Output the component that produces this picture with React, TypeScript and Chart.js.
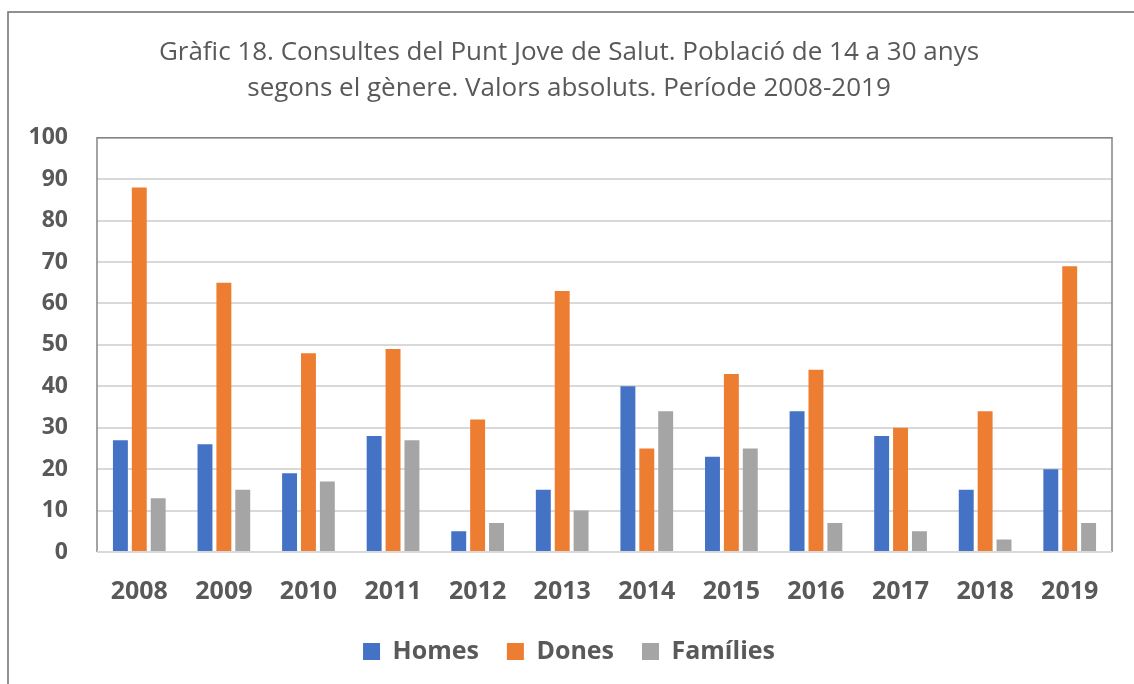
import React, { useEffect, useRef } from "react";
import { Chart, registerables } from "chart.js";

Chart.register(...registerables);

const categories = ["2008", "2009", "2010", "2011", "2012", "2013", "2014", "2015", "2016", "2017", "2018", "2019"];
const homes = [27, 26, 19, 28, 5, 15, 40, 23, 34, 28, 15, 20];
const dones = [88, 65, 48, 49, 32, 63, 25, 43, 44, 30, 34, 69];
const families = [13, 15, 17, 27, 7, 10, 34, 25, 7, 5, 3, 7];
const titleLines = [
  "Gràfic 18. Consultes del Punt Jove de Salut. Població de 14 a 30 anys",
  "segons el gènere. Valors absoluts. Període 2008-2019",
];

const FONT = "'Open Sans', sans-serif";
const TEXT = "#595959";

const framePlugin = {
  id: "frame",
  beforeDraw(chart: any) {
    const ctx = chart.ctx;
    ctx.save();
    ctx.fillStyle = "#ffffff";
    ctx.fillRect(0, 0, chart.width, chart.height);
    ctx.strokeStyle = "#6e6e6e";
    ctx.lineWidth = 1.5;
    ctx.beginPath();
    ctx.moveTo(8, chart.height + 5);
    ctx.lineTo(8, 12);
    ctx.lineTo(chart.width + 5, 12);
    ctx.stroke();
    ctx.restore();
  },
  afterDatasetsDraw(chart: any) {
    const { ctx, chartArea: a } = chart;
    ctx.save();
    ctx.strokeStyle = "#858585";
    ctx.lineWidth = 1.5;
    ctx.beginPath();
    ctx.moveTo(a.left, a.bottom);
    ctx.lineTo(a.left, a.top);
    ctx.lineTo(a.right, a.top);
    ctx.lineTo(a.right, a.bottom);
    ctx.stroke();
    ctx.strokeStyle = "#d9d9d9";
    ctx.lineWidth = 2;
    ctx.beginPath();
    ctx.moveTo(a.left, a.bottom);
    ctx.lineTo(a.right, a.bottom);
    ctx.stroke();
    ctx.restore();
  },
};

export default function App() {
  const ref = useRef<HTMLCanvasElement | null>(null);
  useEffect(() => {
    if (!ref.current) return;
    const chart = new Chart(ref.current, {
      type: "bar",
      data: {
        labels: categories,
        datasets: [
          { label: "Homes", data: homes, backgroundColor: "#4472C4" },
          { label: "Dones", data: dones, backgroundColor: "#ED7D31" },
          { label: "Famílies", data: families, backgroundColor: "#A5A5A5" },
        ],
      },
      options: {
        responsive: false,
        animation: false,
        layout: { padding: { top: 20, left: 26, right: 22, bottom: 10 } },
        datasets: { bar: { categoryPercentage: 0.67, barPercentage: 0.79 } },
        plugins: {
          title: {
            display: true,
            text: titleLines,
            color: TEXT,
            font: { family: FONT, size: 26, weight: "normal", lineHeight: 1.4 },
            padding: { top: 14, bottom: 31 },
          },
          legend: {
            position: "bottom",
            labels: {
              color: TEXT,
              font: { family: FONT, size: 25, weight: "bold" },
              boxWidth: 17,
              boxHeight: 17,
              padding: 28,
            },
          },
          tooltip: { enabled: false },
        },
        scales: {
          x: {
            grid: { display: false, drawTicks: false },
            border: { display: false },
            ticks: { color: TEXT, font: { family: FONT, size: 25, weight: "bold" }, padding: 25, maxRotation: 0 },
            afterFit: (s: any) => {
              s.height = 59;
            },
          },
          y: {
            min: 0,
            max: 100,
            grid: { color: "#d9d9d9", lineWidth: 2, drawTicks: false },
            border: { display: false },
            ticks: { stepSize: 10, color: TEXT, font: { family: FONT, size: 23, weight: "bold" }, padding: 29 },
            afterFit: (s: any) => {
              s.width = 71;
            },
          },
        },
      },
      plugins: [framePlugin],
    } as any);
    return () => chart.destroy();
  }, []);
  return (
    <div style={{ position: "fixed", left: 0, top: 0, width: 1134, height: 684, background: "#fff" }}>
      <canvas ref={ref} width={1134} height={684} style={{ display: "block" }} />
    </div>
  );
}
